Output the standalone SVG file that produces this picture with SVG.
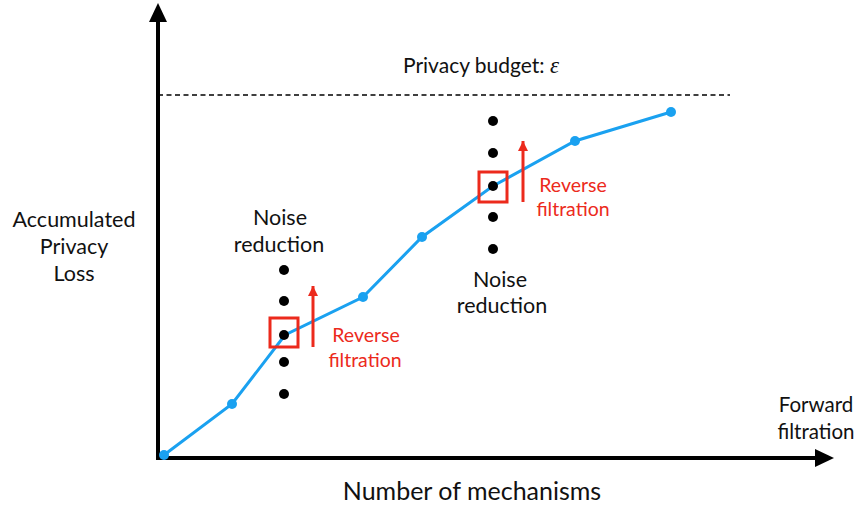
<svg xmlns="http://www.w3.org/2000/svg" width="859" height="505" viewBox="0 0 859 505">
<style>
text{font-family:Lato,"Open Sans","Liberation Sans",sans-serif;fill:#111}
.lbl{font-size:21.5px;text-anchor:middle}
.red{fill:#ec2a1c;font-size:19.5px;text-anchor:middle}
.bd{fill:#000}
.pt{fill:#1aa1f0}
</style>
<defs>
<marker id="rh" viewBox="0 0 10 10" refX="10" refY="5" markerWidth="10" markerHeight="14" markerUnits="userSpaceOnUse" orient="auto"><path d="M0,0L10,5L0,10z" fill="#ec2a1c"/></marker>
</defs>
<rect width="859" height="505" fill="#fff"/>
<g id="axes">
<line x1="158" y1="460" x2="158" y2="20" stroke="#000" stroke-width="4"/>
<path d="M158,3L167,22L149,22z" fill="#000"/>
<line x1="156" y1="458" x2="816" y2="458" stroke="#000" stroke-width="4"/>
<path d="M834,458L815,449L815,467z" fill="#000"/>
</g>
<g id="budget">
<line x1="158" y1="95" x2="730" y2="95" stroke="#000" stroke-width="1.6" stroke-dasharray="5,3.5"/>
<text x="403" y="73" font-size="21">Privacy budget: <tspan font-family="'Liberation Serif',serif" font-style="italic" font-size="23">ε</tspan></text>
</g>
<g id="curve">
<polyline points="164,455 232,404 285,335 363,297 422,237 493,186 575,141 671,112" fill="none" stroke="#1aa1f0" stroke-width="3"/>
<circle class="pt" cx="164" cy="455" r="5"/>
<circle class="pt" cx="232" cy="404" r="5"/>
<circle class="pt" cx="363" cy="297" r="5"/>
<circle class="pt" cx="422" cy="237" r="5"/>
<circle class="pt" cx="575" cy="141" r="5"/>
<circle class="pt" cx="671" cy="112" r="5"/>
</g>
<g id="noise-left">
<circle class="bd" cx="284" cy="270" r="5"/>
<circle class="bd" cx="284" cy="301" r="5"/>
<circle class="bd" cx="284" cy="335" r="5"/>
<circle class="bd" cx="284" cy="362" r="5"/>
<circle class="bd" cx="284" cy="394" r="5"/>
<rect x="270" y="318" width="28" height="29" fill="none" stroke="#ec2a1c" stroke-width="3"/>
<text class="lbl" x="280" y="225">Noise</text>
<text class="lbl" x="279" y="252">reduction</text>
</g>
<g id="noise-right">
<circle class="bd" cx="493" cy="121" r="5"/>
<circle class="bd" cx="493" cy="153" r="5"/>
<circle class="bd" cx="493" cy="186" r="5"/>
<circle class="bd" cx="493" cy="217" r="5"/>
<circle class="bd" cx="493" cy="249" r="5"/>
<rect x="479" y="172" width="28" height="30" fill="none" stroke="#ec2a1c" stroke-width="3"/>
<text class="lbl" x="500" y="287">Noise</text>
<text class="lbl" x="502" y="313">reduction</text>
</g>
<g id="reverse-left">
<line x1="313" y1="347" x2="313" y2="286" stroke="#ec2a1c" stroke-width="3" marker-end="url(#rh)"/>
<text class="red" x="366" y="342">Reverse</text>
<text class="red" x="365" y="367">filtration</text>
</g>
<g id="reverse-right">
<line x1="523" y1="202" x2="523" y2="141" stroke="#ec2a1c" stroke-width="3" marker-end="url(#rh)"/>
<text class="red" x="573" y="192">Reverse</text>
<text class="red" x="573" y="216">filtration</text>
</g>
<g id="labels">
<text class="lbl" x="74" y="227">Accumulated</text>
<text class="lbl" x="74" y="254">Privacy</text>
<text class="lbl" x="74" y="281">Loss</text>
<text x="816" y="412" font-size="20.5" text-anchor="middle">Forward</text>
<text x="816" y="439" font-size="20.5" text-anchor="middle">filtration</text>
<text x="472" y="500" font-size="25" text-anchor="middle">Number of mechanisms</text>
</g>
</svg>
